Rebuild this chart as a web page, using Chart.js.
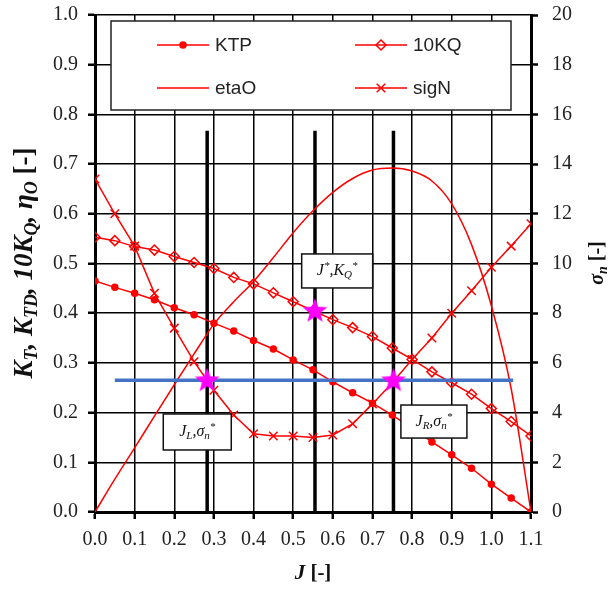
<!DOCTYPE html>
<html>
<head>
<meta charset="utf-8">
<script src="https://cdn.jsdelivr.net/npm/chart.js@4.4.0/dist/chart.umd.min.js"></script>
<style>
  html, body { margin: 0; padding: 0; background: #fff; }
  #wrap { width: 615px; height: 590px; }
</style>
</head>
<body>
<div id="wrap"><canvas id="propChart"></canvas></div>
<script>
// advance coefficient
const J = [0.00, 0.05, 0.10, 0.15, 0.20, 0.25, 0.30, 0.35, 0.40, 0.45, 0.50, 0.55,
           0.60, 0.65, 0.70, 0.75, 0.80, 0.85, 0.90, 0.95, 1.00, 1.05, 1.10];
const KTP  = [0.465, 0.452, 0.440, 0.427, 0.411, 0.397, 0.380, 0.364, 0.345, 0.328, 0.306, 0.286,
              0.262, 0.240, 0.219, 0.195, 0.169, 0.141, 0.115, 0.088, 0.056, 0.028, 0.000];
const KQ10 = [0.553, 0.546, 0.534, 0.527, 0.514, 0.502, 0.490, 0.472, 0.459, 0.441, 0.423, 0.405,
              0.387, 0.371, 0.353, 0.330, 0.307, 0.282, 0.260, 0.237, 0.208, 0.182, 0.153];
const etaO = [0.000, 0.066, 0.129, 0.193, 0.256, 0.318, 0.378, 0.423, 0.464, 0.512, 0.562, 0.606,
              0.643, 0.671, 0.688, 0.692, 0.686, 0.666, 0.620, 0.538, 0.415, 0.248, 0.000];
// sigma_n, right axis
const sigN = [13.4, 12.0, 10.7, 8.8, 7.4, 6.05, 4.9, 3.9, 3.15, 3.06, 3.06, 3.0,
              3.1, 3.55, 4.35, 5.2, 6.14, 7.0, 8.0, 8.9, 9.85, 10.7, 11.6];

// marked operating points
const markJ = [0.283, 0.555, 0.753];      // J_L, J*, J_R
const markTop = 0.767;                    // height of the black bars (left axis)
const sigStar = 5.3;                      // sigma_n* level (right axis)
const sigStarJ = [0.05, 1.055];           // extent of the blue line
const starJ = [0.283, 0.753];             // stars on the sigma_n* line
const kqStar = { x: 0.555, y: 0.405 };    // J*, KQ* star

// tick labels
const xTickLabels = ['0.0', '0.1', '0.2', '0.3', '0.4', '0.5', '0.6', '0.7', '0.8', '0.9', '1.0', '1.1'];
const yTickLabels = ['0.0', '0.1', '0.2', '0.3', '0.4', '0.5', '0.6', '0.7', '0.8', '0.9', '1.0'];
const y2TickLabels = ['0', '2', '4', '6', '8', '10', '12', '14', '16', '18', '20'];

// note boxes: anchor (J, left-axis value) and text pieces
const notes = [
  { x: 0.611, y: 0.485, w: 71, h: 34, segs: [['J', 'i'], ['*', 'ip'], [',K', 'i'], ['Q', 'is'], ['*', 'ip']] },
  { x: 0.258, y: 0.161, w: 68, h: 36, segs: [['J', 'i'], ['L', 'is'], [',', 'i'], ['σ', 'i'], ['n', 'is'], ['*', 'ip']] },
  { x: 0.855, y: 0.182, w: 66, h: 33, segs: [['J', 'i'], ['R', 'is'], [',', 'i'], ['σ', 'i'], ['n', 'is'], ['*', 'ip']] }
];

const RED = '#ff0000';
const SERIF = "'Liberation Serif', 'Times New Roman', serif";
const SANS = "'Liberation Sans', Arial, sans-serif";

function pts(ys) { return J.map((x, i) => ({ x: x, y: ys[i] })); }

// filled magenta star used as point image
const star = document.createElement('canvas');
star.width = 28; star.height = 28;
(function () {
  const c = star.getContext('2d');
  c.fillStyle = '#ff00ff';
  c.beginPath();
  for (let k = 0; k < 10; k++) {
    const r = k % 2 === 0 ? 13 : 5.5;
    const a = -Math.PI / 2 + k * Math.PI / 5;
    c.lineTo(14 + r * Math.cos(a), 14.5 + r * Math.sin(a));
  }
  c.closePath();
  c.fill();
})();

function fontFor(flags, size) {
  const s = (flags.includes('s') || flags.includes('p')) ? Math.round(size * 0.68) : size;
  return (flags.includes('i') ? 'italic ' : '') + (flags.includes('b') ? 'bold ' : '') + s + 'px ' + SERIF;
}

function drawRich(ctx, segs, x, y, size) {
  let total = 0;
  const widths = segs.map(s => { ctx.font = fontFor(s[1], size); const w = ctx.measureText(s[0]).width; total += w; return w; });
  let cx = x - total / 2;
  segs.forEach((s, i) => {
    ctx.font = fontFor(s[1], size);
    let dy = 0;
    if (s[1].includes('s')) dy = size * 0.28;
    if (s[1].includes('p')) dy = -size * 0.3;
    ctx.fillText(s[0], cx, y + dy);
    cx += widths[i];
  });
}

const extras = {
  id: 'extras',
  afterDatasetsDraw(chart) {
    const ctx = chart.ctx;
    const sx = chart.scales.x, sy = chart.scales.y;
    ctx.save();
    ctx.textBaseline = 'middle';
    ctx.textAlign = 'left';

    // note boxes
    notes.forEach(n => {
      const cx = sx.getPixelForValue(n.x), cy = sy.getPixelForValue(n.y);
      ctx.fillStyle = '#fff';
      ctx.fillRect(cx - n.w / 2, cy - n.h / 2, n.w, n.h);
      ctx.strokeStyle = '#111';
      ctx.lineWidth = 1.5;
      ctx.strokeRect(cx - n.w / 2, cy - n.h / 2, n.w, n.h);
      ctx.fillStyle = '#111';
      drawRich(ctx, n.segs, cx, cy, 16);
    });

    // legend
    ctx.fillStyle = '#fff';
    ctx.fillRect(111, 21, 400, 89);
    ctx.strokeStyle = '#222';
    ctx.lineWidth = 1.5;
    ctx.strokeRect(111, 21, 400, 89);
    const items = [
      { ds: 0, lx: 157, ty: 45 }, { ds: 1, lx: 355, ty: 45 },
      { ds: 2, lx: 157, ty: 88 }, { ds: 3, lx: 355, ty: 88 }
    ];
    items.forEach(it => {
      const d = chart.data.datasets[it.ds];
      ctx.strokeStyle = RED;
      ctx.lineWidth = 1.5;
      ctx.beginPath();
      ctx.moveTo(it.lx, it.ty);
      ctx.lineTo(it.lx + 52, it.ty);
      ctx.stroke();
      if (d.pointRadius > 0) {
        ctx.fillStyle = d.pointBackgroundColor;
        Chart.helpers.drawPoint(ctx, { pointStyle: d.pointStyle, radius: d.pointRadius, rotation: 0, borderWidth: 1.5 }, it.lx + 26, it.ty);
      }
      ctx.fillStyle = '#222';
      ctx.font = '19px ' + SANS;
      ctx.fillText(d.label, it.lx + 58, it.ty + 1);
    });

    // axis titles
    ctx.fillStyle = '#111';
    ctx.save();
    ctx.translate(25, 263);
    ctx.rotate(-Math.PI / 2);
    drawRich(ctx, [['K', 'bi'], ['T', 'bis'], [', K', 'bi'], ['TD', 'bis'], [', 10K', 'bi'], ['Q', 'bis'],
                   [', η', 'bi'], ['O', 'bis'], [' [-]', 'b']], 0, 0, 27);
    ctx.restore();
    ctx.save();
    ctx.translate(598, 263);
    ctx.rotate(-Math.PI / 2);
    drawRich(ctx, [['σ', 'bi'], ['n', 'bis'], [' [-]', 'b']], 0, 0, 20);
    ctx.restore();
    drawRich(ctx, [['J', 'bi'], [' [-]', 'b']], 313, 574, 21);
    ctx.restore();
  }
};

const datasets = [
  { label: 'KTP', data: pts(KTP), yAxisID: 'y', borderColor: RED, borderWidth: 1.5,
    pointStyle: 'circle', pointRadius: 3, pointBackgroundColor: RED, pointBorderColor: RED, order: 2 },
  { label: '10KQ', data: pts(KQ10), yAxisID: 'y', borderColor: RED, borderWidth: 1.5,
    pointStyle: 'rectRot', pointRadius: 5, pointBackgroundColor: 'rgba(255,255,255,0)', pointBorderColor: RED,
    pointBorderWidth: 1.5, order: 2 },
  { label: 'etaO', data: pts(etaO), yAxisID: 'y', borderColor: RED, borderWidth: 1.5,
    pointRadius: 0, cubicInterpolationMode: 'monotone', order: 2 },
  { label: 'sigN', data: pts(sigN), yAxisID: 'y2', borderColor: RED, borderWidth: 1.5,
    pointStyle: 'crossRot', pointRadius: 6, pointBackgroundColor: RED, pointBorderColor: RED,
    pointBorderWidth: 1.5, order: 2 }
];
markJ.forEach(j => datasets.push({
  label: 'mark', data: [{ x: j, y: 0 }, { x: j, y: markTop }], yAxisID: 'y',
  borderColor: '#000', borderWidth: 3.5, pointRadius: 0, order: 3
}));
datasets.push({
  label: 'sigStar', data: sigStarJ.map(j => ({ x: j, y: sigStar })), yAxisID: 'y2',
  borderColor: '#4472c4', borderWidth: 3.5, pointRadius: 0, order: 1
});
datasets.push({
  label: 'stars', data: starJ.map(j => ({ x: j, y: sigStar })), yAxisID: 'y2',
  showLine: false, pointStyle: star, order: 0
});
datasets.push({
  label: 'starQ', data: [kqStar], yAxisID: 'y',
  showLine: false, pointStyle: star, order: 0
});
datasets.forEach(d => { if (d.showLine === undefined) d.showLine = true; });

const tickFont = { family: SERIF, size: 20 };
// keep the plot frame fixed: no extra padding from the tick labels
function noPad(s) { s.paddingTop = 0; s.paddingBottom = 0; }

new Chart(document.getElementById('propChart'), {
  type: 'scatter',
  data: { datasets: datasets },
  plugins: [extras],
  options: {
    responsive: true,
    maintainAspectRatio: false,
    animation: false,
    layout: { padding: { top: 15, left: 0, right: 0, bottom: 0 } },
    plugins: { legend: { display: false }, tooltip: { enabled: false } },
    scales: {
      x: {
        type: 'linear', min: 0, max: 1.1,
        ticks: { stepSize: 0.1, color: '#222', font: tickFont, padding: 9,
                 callback: (v, i) => xTickLabels[i] },
        grid: { color: '#000', lineWidth: 1.5, tickLength: 7, tickWidth: 2.5, tickColor: '#000' },
        border: { color: '#000', width: 3 },
        afterFit: s => { s.height = 78; }
      },
      y: {
        position: 'left', min: 0, max: 1,
        ticks: { stepSize: 0.1, color: '#222', font: tickFont, padding: 10,
                 callback: (v, i) => yTickLabels[i] },
        grid: { color: '#000', lineWidth: 1.5, tickLength: 7, tickWidth: 2.5, tickColor: '#000' },
        border: { color: '#000', width: 3 },
        afterFit: s => { s.width = 95; noPad(s); }
      },
      y2: {
        position: 'right', min: 0, max: 20,
        ticks: { stepSize: 2, color: '#222', font: tickFont, padding: 14,
                 callback: (v, i) => y2TickLabels[i] },
        grid: { drawOnChartArea: false, tickLength: 7, tickWidth: 2.5, tickColor: '#000' },
        border: { color: '#000', width: 3 },
        afterFit: s => { s.width = 84; noPad(s); }
      }
    }
  }
});
</script>
</body>
</html>
